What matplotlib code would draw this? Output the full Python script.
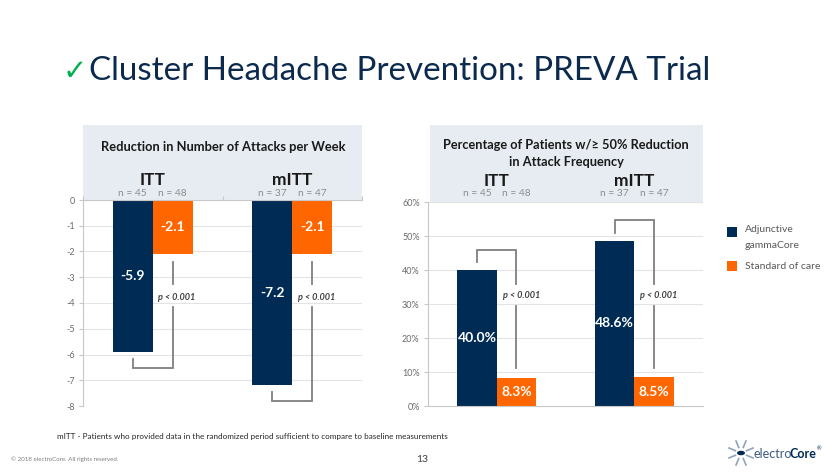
import matplotlib
matplotlib.use("Agg")
import matplotlib.pyplot as plt
from matplotlib.patches import Rectangle, Circle
from matplotlib.transforms import blended_transform_factory
import numpy as np

# ---------------- data ----------------
groups = ["ITT", "mITT"]
n_gamma = [45, 37]
n_soc = [48, 47]
attacks_gamma = [-5.9, -7.2]
attacks_soc = [-2.1, -2.1]
resp_gamma = [40.0, 48.6]
resp_soc = [8.3, 8.5]
p_labels = ["p < 0.001", "p < 0.001"]
attack_ticks = [0, -1, -2, -3, -4, -5, -6, -7, -8]
resp_ticks = [0, 10, 20, 30, 40, 50, 60]
legend_labels = ["Adjunctive\ngammaCore", "Standard of care"]

# ---------------- style ----------------
W, H = 840, 473
FONT = ["Lato", "DejaVu Sans"]
plt.rcParams["font.family"] = FONT
NAVY = "#002b55"
ORANGE = "#ff6600"
GRID = "#e4e4e4"
SPINE = "#c8c8c8"
BRK = "#7f7f7f"
TICKLBL = "#6b6b6b"
HDR = "#e7ecf2"
TITLE = "#0c2a4e"

fig = plt.figure(figsize=(W / 100, H / 100), dpi=100)


def fx(px):
    return px / W


def fy(py):
    return 1 - py / H


def header_box(x0, x1, y0, y1):
    fig.add_artist(Rectangle((fx(x0), fy(y1)), (x1 - x0) / W, (y1 - y0) / H,
                             transform=fig.transFigure, facecolor=HDR,
                             edgecolor="none", zorder=0))


ax1 = fig.add_axes([fx(83), fy(406), (362 - 83) / W, (406 - 200) / H])
ax2 = fig.add_axes([fx(428), fy(406), (703 - 428) / W, (406 - 202) / H])
header_box(83, 362, 125, 200)
header_box(430, 703, 125, 202)

x = np.arange(len(groups))
bw = 0.287


def style_axis(ax):
    ax.set_xlim(-0.5, len(groups) - 0.5)
    ax.yaxis.grid(True, color=GRID, lw=0.8)
    ax.set_axisbelow(True)
    ax.spines["right"].set_visible(False)
    ax.spines["left"].set_color(SPINE)
    ax.tick_params(axis="y", colors=SPINE, labelcolor=TICKLBL, labelsize=6.5,
                   length=3, width=0.8, pad=3)


# ---------- left chart: reduction in attacks ----------
ax1.bar(x - bw / 2, attacks_gamma, bw, color=NAVY, zorder=2)
ax1.bar(x + bw / 2, attacks_soc, bw, color=ORANGE, zorder=2)
ax1.set_ylim(-8, 0)
ax1.set_yticks(attack_ticks)
ax1.set_yticklabels([str(t) for t in attack_ticks])
style_axis(ax1)
ax1.spines["bottom"].set_visible(False)
ax1.spines["top"].set_color(SPINE)
ax1.xaxis.tick_top()
ax1.set_xticks([-0.5, 0.5, 1.5])
ax1.set_xticklabels([])
ax1.tick_params(axis="x", colors=SPINE, length=3, width=0.8)

for i in range(len(groups)):
    ax1.text(x[i] - bw / 2, attacks_gamma[i] / 2, f"{attacks_gamma[i]:.1f}",
             ha="center", va="center", color="white", fontsize=10,
             fontweight="bold", zorder=3)
    ax1.text(x[i] + bw / 2, attacks_soc[i] / 2, f"{attacks_soc[i]:.1f}",
             ha="center", va="center", color="white", fontsize=10,
             fontweight="bold", zorder=3)
    xl, xr = x[i] - bw / 2, x[i] + bw / 2
    ybot = attacks_gamma[i] - 0.62
    ax1.plot([xl, xl, xr, xr], [attacks_gamma[i] - 0.27, ybot, ybot, -4.16],
             color=BRK, lw=1.3, solid_joinstyle="miter", zorder=3)
    ax1.plot([xr, xr], [attacks_soc[i] - 0.31, -3.26], color=BRK, lw=1.3, zorder=3)
    ax1.text(xr + 0.03, -3.77, p_labels[i], ha="center", va="center", fontsize=6.6,
             fontweight="bold", style="italic", color="#404040", zorder=3)

# ---------- right chart: responders ----------
ax2.bar(x - bw / 2, resp_gamma, bw, color=NAVY, zorder=2)
ax2.bar(x + bw / 2, resp_soc, bw, color=ORANGE, zorder=2)
ax2.set_ylim(0, 60)
ax2.set_yticks(resp_ticks)
ax2.set_yticklabels([f"{t}%" for t in resp_ticks])
style_axis(ax2)
ax2.spines["top"].set_visible(False)
ax2.spines["bottom"].set_color(SPINE)
ax2.set_xticks([])

for i in range(len(groups)):
    ax2.text(x[i] - bw / 2, resp_gamma[i] / 2, f"{resp_gamma[i]:.1f}%",
             ha="center", va="center", color="white", fontsize=10,
             fontweight="bold", zorder=3)
    ax2.text(x[i] + bw / 2, resp_soc[i] / 2, f"{resp_soc[i]:.1f}%",
             ha="center", va="center", color="white", fontsize=10,
             fontweight="bold", zorder=3)
    xl, xr = x[i] - bw / 2, x[i] + bw / 2
    ytop = resp_gamma[i] + 6.0
    ax2.plot([xl, xl, xr, xr], [resp_gamma[i] + 2.35, ytop, ytop, 36.0],
             color=BRK, lw=1.3, solid_joinstyle="miter", zorder=3)
    ax2.plot([xr, xr], [29.4, resp_soc[i] + 2.8], color=BRK, lw=1.3, zorder=3)
    ax2.text(xr + 0.035, 32.4, p_labels[i], ha="center", va="center", fontsize=6.6,
             fontweight="bold", style="italic", color="#404040", zorder=3)

# ---------- headers ----------
fig.text(fx(223), fy(147), "Reduction in Number of Attacks per Week",
         ha="center", va="center", fontsize=9.3, fontweight="bold", color="#1a1a1a")
fig.text(fx(566), fy(145), "Percentage of Patients w/\u2265 50% Reduction",
         ha="center", va="center", fontsize=9.2, fontweight="bold", color="#1a1a1a")
fig.text(fx(566), fy(162), "in Attack Frequency",
         ha="center", va="center", fontsize=9.2, fontweight="bold", color="#1a1a1a")
for ax, ygrp, yn in [(ax1, 180, 193), (ax2, 181, 193)]:
    tr = blended_transform_factory(ax.transData, fig.transFigure)
    for i, g in enumerate(groups):
        ax.text(x[i], fy(ygrp), g, transform=tr, ha="center", va="center",
                fontsize=12.5, fontweight="bold", color="#1a1a1a")
        ax.text(x[i] - bw / 2, fy(yn), f"n = {n_gamma[i]}", transform=tr,
                ha="center", va="center", fontsize=7.3, color="#8c8c8c")
        ax.text(x[i] + bw / 2, fy(yn), f"n = {n_soc[i]}", transform=tr,
                ha="center", va="center", fontsize=7.3, color="#8c8c8c")

# ---------- legend ----------
fig.add_artist(Rectangle((fx(727), fy(237)), 10 / W, 10 / H,
                         transform=fig.transFigure, facecolor=NAVY, edgecolor="none"))
fig.text(fx(745), fy(230), legend_labels[0].split("\n")[0], ha="left", va="center",
         fontsize=7.5, color="#595959")
fig.text(fx(745), fy(245), legend_labels[0].split("\n")[1], ha="left", va="center",
         fontsize=7.5, color="#595959")
fig.add_artist(Rectangle((fx(727), fy(271)), 10 / W, 10 / H,
                         transform=fig.transFigure, facecolor=ORANGE, edgecolor="none"))
fig.text(fx(745), fy(266), legend_labels[1], ha="left", va="center",
         fontsize=7.5, color="#595959")

# ---------- title ----------
fig.text(fx(63), fy(80), "\u2713", ha="left", va="baseline", fontsize=21,
         color="#00b050", family=["DejaVu Sans"])
fig.text(fx(89), fy(80), "Cluster Headache Prevention: PREVA Trial", ha="left",
         va="baseline", fontsize=23.9, color=TITLE)

# ---------- footer ----------
fig.text(fx(57), fy(436), "mITT - Patients who provided data in the randomized period "
         "sufficient to compare to baseline measurements", ha="left", va="center",
         fontsize=5.85, color="#262626")
fig.text(fx(11), fy(459), "\u00a9 2018 electroCore. All rights reserved.", ha="left",
         va="center", fontsize=4.4, color="#7f7f7f")
fig.text(fx(422), fy(459), "13", ha="center", va="center", fontsize=7.5, color="#404040")

# logo
cx, cy = 741, 453
fig.add_artist(Circle((fx(cx), fy(cy)), 4 / W, transform=fig.transFigure,
                      facecolor=NAVY, edgecolor="none"))
for k in range(8):
    a = np.pi / 8 + k * np.pi / 4
    r0, r1 = 6, 13
    fig.add_artist(plt.Line2D([fx(cx + r0 * np.cos(a)), fx(cx + r1 * np.cos(a))],
                              [fy(cy + r0 * np.sin(a)), fy(cy + r1 * np.sin(a))],
                              transform=fig.transFigure, color="#8fa3bb", lw=1.2))
fig.text(fx(753), fy(454), "electro", ha="left", va="center", fontsize=9,
         color="#3d5a80")
fig.text(fx(789), fy(454), "Core", ha="left", va="center", fontsize=9,
         color=NAVY, fontweight="bold")
fig.text(fx(817), fy(449), "\u00ae", ha="left", va="center", fontsize=4,
         color=NAVY)

fig.savefig("out.png", dpi=100)
